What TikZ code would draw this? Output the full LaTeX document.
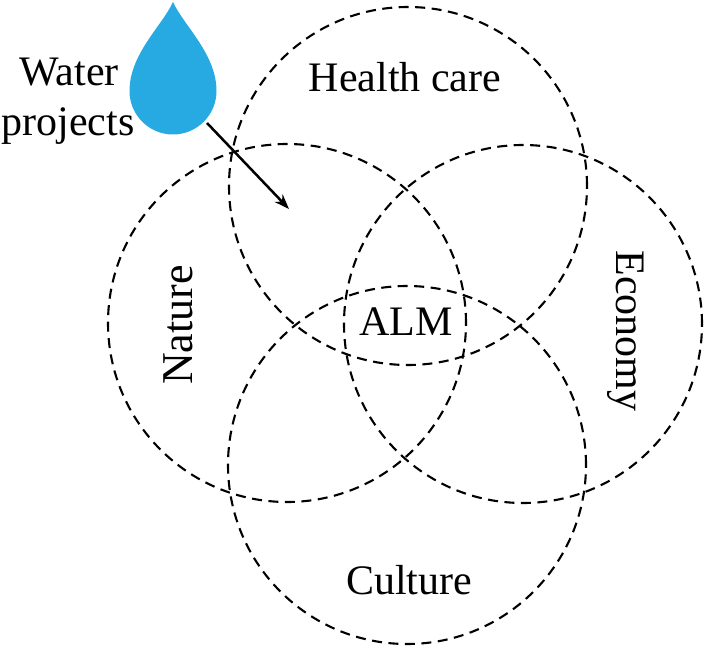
\documentclass[tikz,border=0pt]{standalone}
\usepackage{fontspec}
\setmainfont{Liberation Serif}
\usetikzlibrary{arrows.meta}
\definecolor{dropblue}{RGB}{38,170,225}
\begin{document}
\begin{tikzpicture}[x=1pt,y=-1pt,
  venn/.style={circle,draw=black,line width=2.1pt,dash pattern=on 10pt off 6.5pt,minimum size=358pt,inner sep=0pt},
  lbl/.style={font=\fontsize{42}{50}\selectfont,inner sep=0pt},
  flowarrow/.style={line width=2.5pt,-{Stealth[length=15pt,width=11pt]}}]
\useasboundingbox (0,0) rectangle (705,650);
% circles
\node[venn] (health) at (408,186) {};
\node[venn] (nature) at (287,323) {};
\node[venn] (economy) at (523,324) {};
\node[venn] (culture) at (407,465) {};
% labels
\node[lbl,anchor=base] (thealth) at (405,92) {Health care};
\node[lbl,rotate=90,font=\fontsize{44}{50}\selectfont] (tnature) at (178,325) {Nature};
\node[lbl,rotate=-90] (teconomy) at (626,331) {Economy};
\node[lbl,anchor=base] (talm) at (406,335) {ALM};
\node[lbl,anchor=base] (tculture) at (409,594) {Culture};
\node[lbl,anchor=base] (twater) at (69,86) {Water};
\node[lbl,anchor=base] (tprojects) at (68,136) {projects};
% drop
\fill[dropblue] (173,2) .. controls (162,26) and (129.5,54) .. (129.5,91)
  .. controls (129.5,115) and (149,134.5) .. (173,134.5)
  .. controls (197,134.5) and (216.5,115) .. (216.5,91)
  .. controls (216.5,54) and (184,26) .. (173,2) -- cycle;
\coordinate (dropout) at (207,123);
\coordinate (arrowend) at (289,209);
\draw[flowarrow] (dropout) -- (arrowend);
\end{tikzpicture}
\end{document}
